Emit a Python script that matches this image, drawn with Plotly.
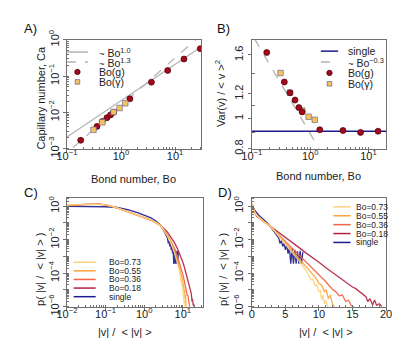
import plotly.graph_objects as go

W, H = 407, 356

# panel A / B: gravity-varied (Bo(g)) and surface-tension-varied (Bo(gamma)) runs
bo_g = [0.18, 0.36, 0.45, 0.55, 0.64, 0.73, 1.46, 3.65, 7.3, 14.6, 29.2]
ca_g = [0.0017, 0.0041, 0.0056, 0.0071, 0.0085, 0.0101, 0.0236, 0.068, 0.143, 0.295, 0.57]
var_g = [1.63, 1.31, 1.21, 1.146, 1.084, 1.05, 0.92, 0.915, 0.902, 0.91, None]

bo_s = [0.31, 0.45, 0.73, 0.94, 1.2]
ca_s = [0.0033, 0.0053, 0.0102, 0.0132, 0.0178]
var_s = [1.40, 1.21, 1.06, 1.013, 0.99]

# guide lines (end points)
fit1_bo = [0.1, 30]
fit1_ca = [0.0021, 0.63]
fit13_bo = [0.13, 24]
fit13_ca = [0.00107, 1.0]
fitb_bo = [0.112, 1.42]
fitb_var = [1.80, 0.80]
single_var = 0.91

# panel C / D: velocity magnitude distributions (noisy tails kept as read)
v_073 = [0.01, 0.02, 0.04, 0.07, 0.1, 0.2, 0.4, 0.7, 1.0, 1.5, 2.0, 2.7, 4, 5, 6, 7, 8, 8.4, 8.8, 9.1, 9.4,
         9.7, 10.0, 10.2, 10.4, 10.6, 10.8, 11.0, 11.3]
p_073 = [1.15, 1.3, 1.33, 1.3, 1.2, 0.8, 0.46, 0.29, 0.22, 0.155, 0.108, 0.068, 0.0166, 0.0056, 0.0018, 5.6e-4,
         1.6e-4, 9e-5, 4e-5, 4.5e-5, 1.8e-5, 2e-5, 7.9e-6, 9e-6, 2.5e-6, 5e-6, 1.5e-6, 2.5e-6, 1e-6]
v_055 = [0.01, 0.02, 0.04, 0.07, 0.1, 0.2, 0.4, 0.7, 1.0, 1.5, 2.0, 2.7, 4, 5, 6, 7, 8, 9, 9.5, 10, 10.4, 10.8,
         11.1, 11.4, 11.7, 12.0, 12.3]
p_055 = [1.15, 1.3, 1.35, 1.3, 1.22, 0.8, 0.46, 0.28, 0.21, 0.15, 0.105, 0.068, 0.018, 0.0063, 0.0022, 7.9e-4,
         2.7e-4, 8.9e-5, 5.5e-5, 2.5e-5, 2e-5, 8e-6, 1e-5, 3e-6, 5e-6, 1.5e-6, 1e-6]
v_036 = [0.01, 0.02, 0.04, 0.07, 0.1, 0.2, 0.4, 0.7, 1.0, 1.5, 2.0, 2.7, 4, 5, 6, 7, 8, 9, 10, 11, 12, 12.5, 13,
         13.5, 14, 14.4, 14.8, 15.2]
p_036 = [1.12, 1.25, 1.3, 1.28, 1.2, 0.8, 0.45, 0.27, 0.21, 0.15, 0.105, 0.068, 0.02, 0.0081, 0.0032, 0.0013,
         5.1e-4, 2e-4, 8e-5, 3.2e-5, 1.1e-5, 8e-6, 4.5e-6, 5e-6, 2e-6, 2.5e-6, 1.2e-6, 1e-6]
v_018 = [0.01, 0.02, 0.04, 0.07, 0.1, 0.2, 0.4, 0.7, 1.0, 1.5, 2.0, 2.7, 4, 5, 6, 7, 8, 9, 10, 11, 12, 13, 14, 15,
         15.5, 16, 16.5, 17, 17.3, 17.6, 18, 18.3, 18.6, 19.0, 19.4]
p_018 = [1.1, 1.26, 1.35, 1.32, 1.2, 0.8, 0.45, 0.26, 0.21, 0.15, 0.105, 0.068, 0.028, 0.014, 0.0069, 0.0035,
         0.0017, 9e-4, 4.5e-4, 2.2e-4, 1.1e-4, 6e-5, 3e-5, 1.5e-5, 1.2e-5, 8e-6, 6e-6, 4e-6, 2e-6, 3e-6, 1.3e-6,
         2.5e-6, 1.2e-6, 1.5e-6, 1e-6]
v_single = [0.01, 0.02, 0.05, 0.1, 0.2, 0.4, 0.7, 1.0, 1.5, 2.0, 2.5, 3.0, 3.5, 3.8, 4.0, 4.2, 4.4, 4.6, 4.8, 5.0,
            5.2, 5.4, 5.6, 5.8, 6.0, 6.2, 6.4, 6.6, 6.8, 7.0, 7.2, 7.4, 7.6]
p_single = [0.98, 0.98, 0.96, 0.93, 0.84, 0.6, 0.4, 0.3, 0.2, 0.13, 0.085, 0.045, 0.025, 0.016, 0.013, 0.006,
            0.009, 0.004, 0.006, 0.0025, 0.005, 0.0015, 0.0035, 3.7e-4, 0.003, 3.7e-4, 0.0025, 3.7e-4, 0.002,
            3.7e-4, 0.0022, 3.7e-4, 0.0018]

curves = [
    ("single", v_single, p_single, "#1c1c8e"),
    ("Bo=0.18", v_018, p_018, "#b3203f"),
    ("Bo=0.36", v_036, p_036, "#f26244"),
    ("Bo=0.55", v_055, p_055, "#fba53c"),
    ("Bo=0.73", v_073, p_073, "#fdd47e"),
]

FONT = "Liberation Sans, Arial, sans-serif"
RED, RED_EDGE = "#a3081c", "#4a0008"
SQ, SQ_EDGE = "#f6c25e", "#6d6d98"
GREY = "#b4b4b4"
AX = "#707070"


def dom_x(a, b):
    return [a / W, b / W]


def dom_y(top, bottom):
    return [1 - bottom / H, 1 - top / H]


fig = go.Figure()

# A
fig.add_trace(go.Scatter(x=fit1_bo, y=fit1_ca, mode="lines", line=dict(color=GREY, width=1.3),
                         xaxis="x", yaxis="y", showlegend=False))
fig.add_trace(go.Scatter(x=fit13_bo, y=fit13_ca, mode="lines", line=dict(color=GREY, width=1.3, dash="dash"),
                         xaxis="x", yaxis="y", showlegend=False))
fig.add_trace(go.Scatter(x=bo_g, y=ca_g, mode="markers", xaxis="x", yaxis="y", showlegend=False,
                         marker=dict(symbol="circle", size=6, color=RED, line=dict(color=RED_EDGE, width=0.7))))
fig.add_trace(go.Scatter(x=bo_s, y=ca_s, mode="markers", xaxis="x", yaxis="y", showlegend=False,
                         marker=dict(symbol="square", size=5.5, color=SQ, line=dict(color=SQ_EDGE, width=0.7))))

# B
fig.add_trace(go.Scatter(x=fitb_bo, y=fitb_var, mode="lines", line=dict(color=GREY, width=1.3, dash="dash"),
                         xaxis="x2", yaxis="y2", showlegend=False))
fig.add_trace(go.Scatter(x=bo_s, y=var_s, mode="markers", xaxis="x2", yaxis="y2", showlegend=False,
                         marker=dict(symbol="square", size=5.5, color=SQ, line=dict(color=SQ_EDGE, width=0.7))))
fig.add_trace(go.Scatter(x=bo_g, y=var_g, mode="markers", xaxis="x2", yaxis="y2", showlegend=False,
                         marker=dict(symbol="circle", size=6, color=RED, line=dict(color=RED_EDGE, width=0.7))))
fig.add_shape(type="line", xref="x2 domain", yref="y2", x0=0, x1=1, y0=single_var, y1=single_var,
              line=dict(color="#1c1c8e", width=1.5), layer="below")

# C and D
for name, v, p, col in curves:
    for xa, ya in (("x3", "y3"), ("x4", "y4")):
        fig.add_trace(go.Scatter(x=v, y=p, mode="lines", line=dict(color=col, width=1.3),
                                 opacity=0.9, xaxis=xa, yaxis=ya, showlegend=False, name=name))


def pw(e):
    return "10<sup>%s</sup>" % str(e).replace("-", "\u2212")


axis_common = dict(showline=True, linecolor=AX, linewidth=1, mirror=True, ticks="outside",
                   ticklen=3, tickcolor=AX, showgrid=False, zeroline=False,
                   tickfont=dict(size=11, color="#222", family=FONT))
xlab = dict(ticklabelstandoff=-6)
minor_log = dict(ticks="inside", ticklen=2, tickcolor=AX, dtick="D1", showgrid=False)
p_ticks = [1e-6, 1e-5, 1e-4, 1e-3, 1e-2, 1e-1, 1]
p_text = [pw(-6), "", pw(-4), "", pw(-2), "", pw(0)]

fig.update_layout(
    width=W, height=H, margin=dict(l=0, r=0, t=0, b=0),
    paper_bgcolor="white", plot_bgcolor="white",
    font=dict(family=FONT, size=11, color="#222"),
    xaxis=dict(axis_common, **xlab, type="log", domain=dom_x(50, 190), anchor="y", range=[-1, 1.48],
               tickvals=[0.1, 1, 10], ticktext=[pw(-1), pw(0), pw(1)], minor=minor_log),
    yaxis=dict(axis_common, type="log", domain=dom_y(23, 138), anchor="x", range=[-3, 0],
               tickvals=[0.001, 0.01, 0.1, 1], ticktext=[pw(-3), pw(-2), pw(-1), pw(0)], tickangle=-90,
               minor=minor_log),
    xaxis2=dict(axis_common, **xlab, type="log", domain=dom_x(243, 383), anchor="y2", range=[-1, 1.3],
                tickvals=[0.1, 1, 10], ticktext=[pw(-1), pw(0), pw(1)], minor=minor_log),
    yaxis2=dict(axis_common, type="log", domain=dom_y(23, 138), anchor="x2", range=[-0.0969, 0.253],
                tickvals=[0.8, 1, 1.2, 1.6], ticktext=["0.8", "1", "1.2", "1.6"], tickangle=-90,
                minor=dict(ticks="inside", ticklen=3, tickcolor=AX, tickmode="array",
                           tickvals=[0.9, 1.1, 1.4], showgrid=False)),
    xaxis3=dict(axis_common, **xlab, type="log", domain=dom_x(50, 192), anchor="y3", range=[-2, 1.52],
                tickvals=[0.01, 0.1, 1, 10], ticktext=[pw(-2), pw(-1), pw(0), pw(1)], minor=minor_log),
    yaxis3=dict(axis_common, type="log", domain=dom_y(190, 305), anchor="x3", range=[-6, 0.5],
                tickvals=p_ticks, ticktext=p_text, tickangle=-90, minor=minor_log),
    xaxis4=dict(axis_common, **xlab, domain=dom_x(243, 383), anchor="y4", range=[0, 20], dtick=5,
                minor=dict(ticks="inside", ticklen=2, tickcolor=AX, dtick=1)),
    yaxis4=dict(axis_common, type="log", domain=dom_y(190, 305), anchor="x4", range=[-6, 0.5],
                tickvals=p_ticks, ticktext=p_text, tickangle=-90, minor=minor_log),
)

# panel letters and axis titles
titles = [
    ("A)", 3, 11, 0, "left", 13),
    ("B)", 205, 11, 0, "left", 13),
    ("C)", 3, 184, 0, "left", 13),
    ("D)", 206, 184, 0, "left", 13),
    ("Bond number, Bo", 120, 170, 0, "center", 11),
    ("Bond number, Bo", 313, 167, 0, "center", 11),
    ("|v| /  < |v| >", 111, 332, 0, "center", 11),
    ("|v| /  < |v| >", 320, 332, 0, "center", 11),
    ("Capillary number, Ca", 22, 84, -90, "center", 11),
    ("Var(v) / < v ><sup>2</sup>", 210, 80, -90, "center", 11),
    ("p( |v| /  < |v| > )", 22, 266, -90, "center", 11),
    ("p( |v| /  < |v| > )", 213, 266, -90, "center", 11),
]
for text, px, py, ang, anchor, size in titles:
    fig.add_annotation(text=text, x=px / W, y=1 - py / H, xref="paper", yref="paper", xanchor=anchor,
                       yanchor="middle", textangle=ang, showarrow=False,
                       font=dict(size=size, color="#111" if size > 11 else "#222", family=FONT))

# hand-laid legends (the tight line spacing of the original is below plotly's legend minimum)
TILDE = "<span style='font-size:9.5px'>~</span> "
legends = [
    # (line x0, line x1, text x, first y, step, font size, entries)
    (50, 72, 81, 36, 10.5, 10.5, [("line", GREY, "solid", TILDE + "Bo<sup>1.0</sup>"),
                                  ("line", GREY, "dash", TILDE + "Bo<sup>1.3</sup>"),
                                  ("circle", RED, RED_EDGE, "Bo(g)"),
                                  ("square", SQ, SQ_EDGE, "Bo(\u03b3)")]),
    (315, 333, 341, 35, 11.5, 10.5, [("line", "#1c1c8e", "solid", "single"),
                                     ("line", GREY, "dash", TILDE + "Bo<sup>\u22120.3</sup>"),
                                     ("circle", RED, RED_EDGE, "Bo(g)"),
                                     ("square", SQ, SQ_EDGE, "Bo(\u03b3)")]),
    (57, 80, 92, 258, 9.1, 8.5, [("line", c[3], "solid", c[0]) for c in curves[::-1]]),
    (328, 346, 350, 199.5, 9.4, 8.5, [("line", c[3], "solid", c[0]) for c in curves[::-1]]),
]
for lx0, lx1, tx, y0, step, fsize, entries in legends:
    for i, (kind, col, style, label) in enumerate(entries):
        yy = y0 + i * step
        yp = 1 - yy / H
        if kind == "line":
            fig.add_shape(type="line", xref="paper", yref="paper", x0=lx0 / W, x1=lx1 / W, y0=yp, y1=yp,
                          line=dict(color=col, width=1.5, dash=style))
        else:
            cx = (lx0 + lx1) / 2
            r = 2.8 if kind == "circle" else 2.4
            fig.add_shape(type="circle" if kind == "circle" else "rect", xref="paper", yref="paper",
                          x0=(cx - r) / W, x1=(cx + r) / W, y0=1 - (yy + r) / H, y1=1 - (yy - r) / H,
                          fillcolor=col, line=dict(color=style, width=0.8))
        fig.add_annotation(text=label, x=tx / W, y=yp, xref="paper", yref="paper", xanchor="left",
                           yanchor="middle", showarrow=False, font=dict(size=fsize, color="#222", family=FONT))

fig.write_html("out.html")
